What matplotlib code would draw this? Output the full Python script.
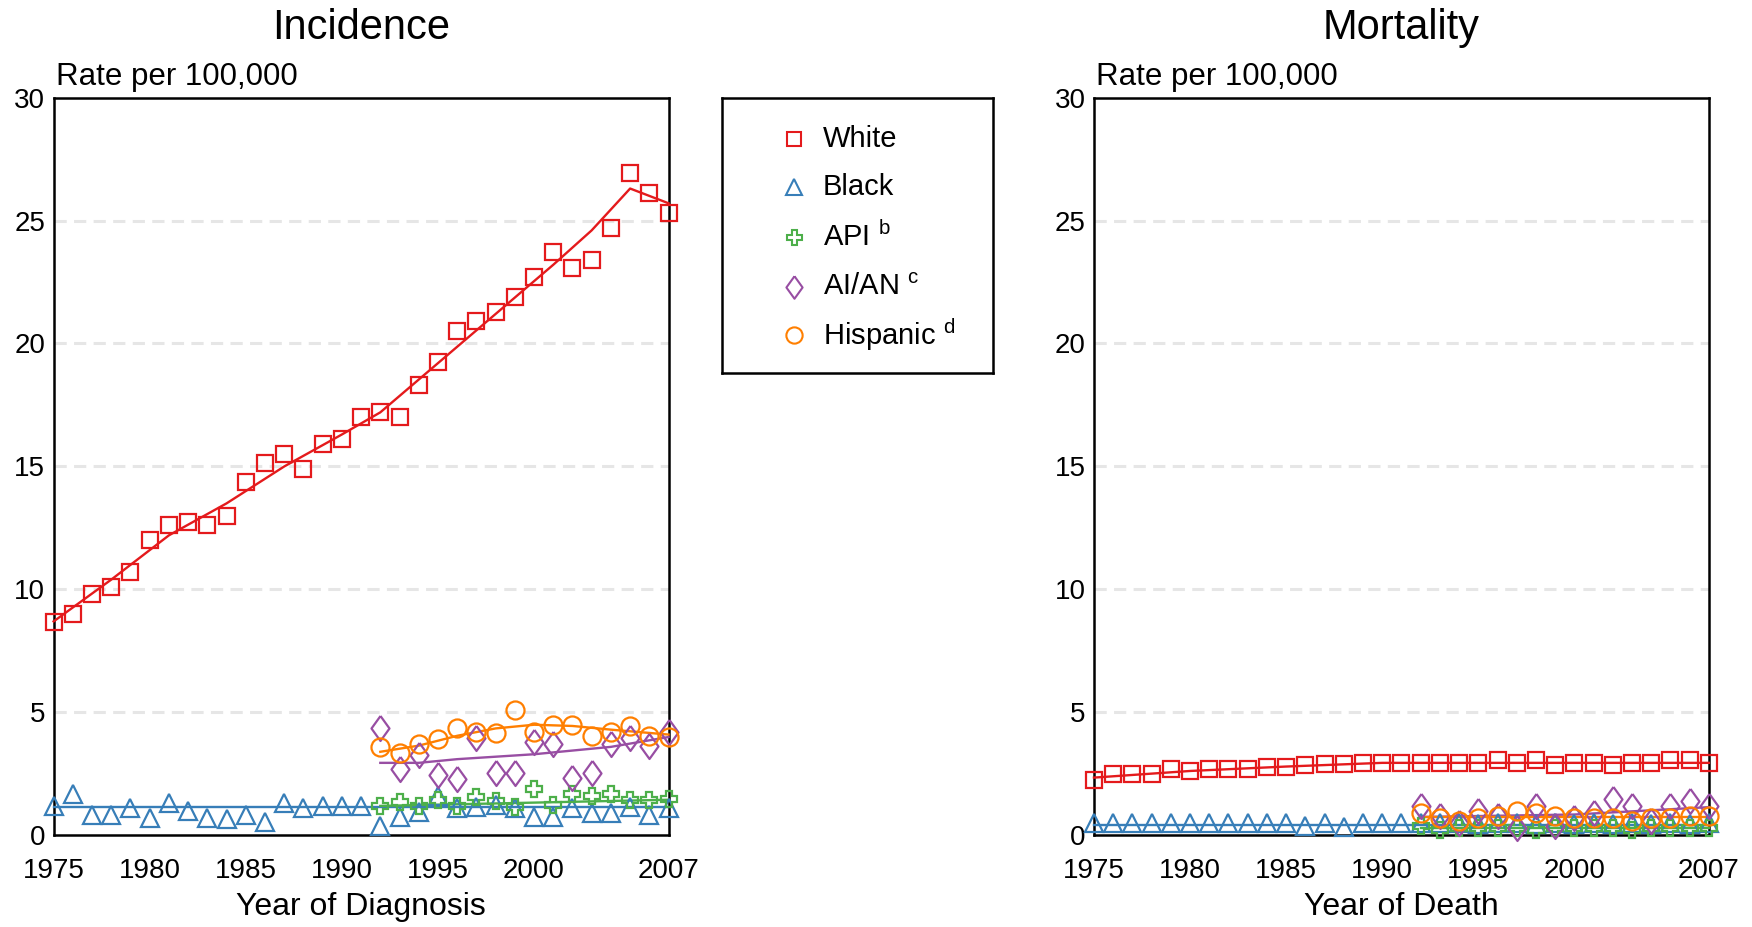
import matplotlib
matplotlib.use('Agg')
import matplotlib.pyplot as plt

plt.rcParams['font.family'] = ['Liberation Sans', 'DejaVu Sans']

years = list(range(1975, 2008))
years_92 = list(range(1992, 2008))

# ---- Incidence (observed) ----
inc_white = [8.67, 9.0, 9.8, 10.1, 10.7, 12.0, 12.6, 12.75, 12.6, 13.0, 14.35, 15.15, 15.5,
             14.9, 15.9, 16.1, 17.0, 17.2, 17.0, 18.3, 19.25, 20.5, 20.9, 21.3, 21.9, 22.7,
             23.7, 23.05, 23.4, 24.7, 26.95, 26.1, 25.3]
inc_black = [1.2, 1.7, 0.85, 0.85, 1.1, 0.7, 1.3, 1.0, 0.7, 0.65, 0.85, 0.55, 1.3, 1.1, 1.2,
             1.2, 1.2, 0.4, 0.75, 0.95, 1.6, 1.1, 1.15, 1.25, 1.1, 0.75, 0.75, 1.1, 0.9, 0.9,
             1.15, 0.85, 1.1]
inc_api = [1.2, 1.35, 1.2, 1.45, 1.2, 1.55, 1.4, 1.15, 1.9, 1.25, 1.7, 1.6, 1.7, 1.45, 1.45, 1.5]
inc_aian = [4.35, 2.7, 3.25, 2.45, 2.3, 3.95, 2.55, 2.55, 3.8, 3.7, 2.35, 2.55, 3.7, 3.95, 3.65, 4.2]
inc_hisp = [3.6, 3.35, 3.7, 3.9, 4.35, 4.2, 4.15, 5.1, 4.2, 4.5, 4.5, 4.05, 4.2, 4.45, 4.05, 4.0]

# ---- Incidence (fitted trends) ----
fit_white_yr = [1975, 1978, 1981, 1984, 1987, 1990, 1992, 1995, 1998, 2001, 2003, 2005, 2007]
fit_white = [8.7, 10.4, 12.2, 13.5, 15.0, 16.3, 17.2, 19.2, 21.2, 23.2, 24.6, 26.3, 25.7]
fit_black_yr = [1975, 2007]
fit_black = [1.15, 1.15]
fit_api_yr = [1992, 2007]
fit_api = [1.2, 1.45]
fit_aian_yr = [1992, 1994, 1996, 1998, 2000, 2002, 2004, 2007]
fit_aian = [2.95, 2.95, 3.1, 3.2, 3.3, 3.45, 3.6, 4.0]
fit_hisp_yr = [1992, 1994, 1996, 1998, 2000, 2002, 2004, 2007]
fit_hisp = [3.4, 3.65, 4.05, 4.35, 4.5, 4.45, 4.3, 4.1]

# ---- Mortality (observed) ----
mort_white = [2.27, 2.5, 2.5, 2.5, 2.7, 2.6, 2.7, 2.7, 2.7, 2.8, 2.8, 2.85, 2.9, 2.9, 2.95,
              2.95, 2.95, 2.95, 2.95, 2.95, 2.95, 3.05, 2.95, 3.05, 2.85, 2.95, 2.95, 2.85,
              2.95, 2.95, 3.05, 3.05, 2.95]
mort_black = [0.5, 0.5, 0.5, 0.5, 0.5, 0.5, 0.5, 0.5, 0.5, 0.5, 0.5, 0.4, 0.5, 0.35, 0.5,
              0.5, 0.5, 0.5, 0.5, 0.5, 0.45, 0.5, 0.5, 0.45, 0.5, 0.45, 0.5, 0.45, 0.5, 0.45,
              0.5, 0.45, 0.5]
mort_api = [0.4, 0.2, 0.3, 0.3, 0.3, 0.3, 0.2, 0.3, 0.3, 0.3, 0.3, 0.2, 0.3, 0.3, 0.3, 0.3]
mort_aian = [1.2, 0.8, 0.5, 1.0, 0.8, 0.3, 1.2, 0.4, 0.7, 0.9, 1.5, 1.2, 0.6, 1.2, 1.4, 1.2]
mort_hisp = [0.9, 0.7, 0.6, 0.7, 0.8, 1.0, 0.9, 0.8, 0.7, 0.7, 0.7, 0.6, 0.7, 0.7, 0.8, 0.8]

# ---- Mortality (fitted trends) ----
mfit_white_yr = [1975, 1980, 1985, 1990, 2007]
mfit_white = [2.35, 2.62, 2.8, 2.95, 2.95]
mfit_black_yr = [1975, 2007]
mfit_black = [0.42, 0.42]
mfit_api_yr = [1992, 2007]
mfit_api = [0.3, 0.3]
mfit_aian_yr = [1992, 2000, 2007]
mfit_aian = [0.75, 0.85, 1.15]
mfit_hisp_yr = [1992, 2007]
mfit_hisp = [0.75, 0.75]

legend_keys = ['white', 'black', 'api', 'aian', 'hisp']
legend_labels = ['White', 'Black', r'API $^{\mathregular{b}}$', r'AI/AN $^{\mathregular{c}}$',
                 r'Hispanic $^{\mathregular{d}}$']

colors = {'white': '#E41A1C', 'black': '#377EB8', 'api': '#4DAF4A',
          'aian': '#984EA3', 'hisp': '#FF7F00'}
diamond = [(0, 1), (0.72, 0), (0, -1), (-0.72, 0), (0, 1)]
markers = {'white': 's', 'black': '^', 'api': 'P', 'aian': diamond, 'hisp': 'o'}
msizes = {'white': 11, 'black': 12.5, 'api': 12, 'aian': 18, 'hisp': 13}

xticks = [1975, 1980, 1985, 1990, 1995, 2000, 2007]


def draw_series(ax, key, xs, ys, fx, fy):
    ax.plot(fx, fy, color=colors[key], lw=1.7, zorder=3, clip_on=False)
    ax.plot(xs, ys, linestyle='none', marker=markers[key], ms=msizes[key],
            mfc='none', mec=colors[key], mew=1.6, zorder=4, clip_on=False)


def style_axes(ax, title, xlabel):
    ax.set_xlim(1975, 2007)
    ax.set_ylim(0, 30)
    ax.set_xticks(xticks)
    ax.set_yticks(range(0, 31, 5))
    ax.tick_params(length=0, labelsize=20)
    ax.tick_params(axis='x', pad=16)
    ax.tick_params(axis='y', pad=6)
    for s in ax.spines.values():
        s.set_linewidth(1.8)
    for v in range(5, 30, 5):
        ax.axhline(v, color='#e6e6e6', lw=2.2, dashes=(4, 2.4), zorder=1)
    ax.set_title(title, fontsize=30, pad=42)
    ax.set_xlabel(xlabel, fontsize=23, labelpad=6)
    ax.text(0.004, 1.008, 'Rate per 100,000', transform=ax.transAxes,
            ha='left', va='bottom', fontsize=22.5)


fig = plt.figure(figsize=(17.52, 9.27), dpi=100)
ax1 = fig.add_axes([0.0306, 0.0988, 0.351, 0.796])
ax2 = fig.add_axes([0.6244, 0.0988, 0.351, 0.796])

draw_series(ax1, 'white', years, inc_white, fit_white_yr, fit_white)
draw_series(ax1, 'black', years, inc_black, fit_black_yr, fit_black)
draw_series(ax1, 'api', years_92, inc_api, fit_api_yr, fit_api)
draw_series(ax1, 'aian', years_92, inc_aian, fit_aian_yr, fit_aian)
draw_series(ax1, 'hisp', years_92, inc_hisp, fit_hisp_yr, fit_hisp)
style_axes(ax1, 'Incidence', 'Year of Diagnosis')

draw_series(ax2, 'white', years, mort_white, mfit_white_yr, mfit_white)
draw_series(ax2, 'black', years, mort_black, mfit_black_yr, mfit_black)
draw_series(ax2, 'api', years_92, mort_api, mfit_api_yr, mfit_api)
draw_series(ax2, 'aian', years_92, mort_aian, mfit_aian_yr, mfit_aian)
draw_series(ax2, 'hisp', years_92, mort_hisp, mfit_hisp_yr, mfit_hisp)
style_axes(ax2, 'Mortality', 'Year of Death')

# legend box drawn as its own small axes so the rows stay evenly spaced
lax = fig.add_axes([0.412, 0.598, 0.155, 0.296])
lax.set_xlim(0, 1)
lax.set_ylim(0, 1)
lax.set_xticks([])
lax.set_yticks([])
for s in lax.spines.values():
    s.set_linewidth(1.8)
row_y = [0.850, 0.675, 0.496, 0.313, 0.138]
for k, lab, yy in zip(legend_keys, legend_labels, row_y):
    lax.plot([0.267], [yy], linestyle='none', marker=markers[k], ms=msizes[k] * 0.9,
             mfc='none', mec=colors[k], mew=1.5)
    lax.text(0.372, yy, lab, ha='left', va='center', fontsize=21)

fig.savefig('out.png', dpi=100, facecolor='white')
